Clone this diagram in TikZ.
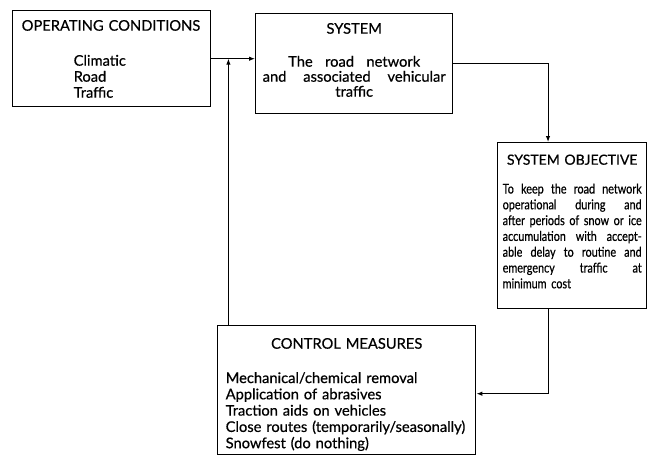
\documentclass[tikz,border=0pt]{standalone}
\usepackage{fontspec}
\setmainfont{Lato}[FakeBold=0.6]
\newfontfamily\narrowfont{Lato}[FakeBold=0.6,FakeStretch=0.8]
\usetikzlibrary{arrows.meta,calc}

% a line with its word spaces spread to the given width
\newcommand\fullline[2][\linewidth]{{\spaceskip=.3333em plus 1fil\makebox[#1][s]{#2}}}

\begin{document}
\begin{tikzpicture}[x=1pt,y=-1pt,
		block/.style={draw, line width=1.4pt, anchor=north west, inner ysep=0pt, font=\fontsize{14.7}{16}\selectfont},
		link/.style={line width=1pt, -{Latex[length=6pt,width=4.5pt]}}]
	\useasboundingbox (0,0) rectangle (647,456);

	\node (cond) [block, inner xsep=7pt, text width=184pt, text height=20pt, text depth=76pt, align=left] at (12,10)
		{\hspace*{2pt}OPERATING CONDITIONS\\[19pt]
		\hspace*{54pt}Climatic\\
		\hspace*{54pt}Road\\
		\hspace*{54pt}Traffic};
	\node (sys) [block, inner xsep=7pt, text width=183pt, text height=20pt, text depth=80pt, align=center, font=\fontsize{14.7}{15}\selectfont] at (255,13)
		{SYSTEM\\[18pt]
		\fullline[132pt]{The road network}\\
		\fullline[183pt]{and associated vehicular}\\
		traffic};
	\node (obj) [block, inner xsep=5pt, text width=139pt, text height=22pt, text depth=144pt, align=left, font=\fontsize{14}{15.8}\selectfont] at (497,142)
		{\makebox[\linewidth]{SYSTEM OBJECTIVE}\\[13pt]
		\narrowfont\fontsize{13.5}{15.8}\selectfont
		\fullline{To keep the road network}\\
		\fullline{operational during and}\\
		\fullline{after periods of snow or ice}\\
		\fullline{accumulation with accept-}\\
		\fullline{able delay to routine and}\\
		\fullline{emergency traffic at}\\
		minimum cost};
	\node (ctrl) [block, inner xsep=6pt, text width=246pt, text height=23pt, text depth=106pt, align=left, font=\fontsize{14.7}{16.3}\selectfont] at (217,325)
		{\makebox[\linewidth]{CONTROL MEASURES}\\[18pt]
		\hspace*{2pt}Mechanical/chemical removal\\
		\hspace*{2pt}Application of abrasives\\
		\hspace*{2pt}Traction aids on vehicles\\
		\hspace*{2pt}Close routes (temporarily/seasonally)\\
		\hspace*{2pt}Snowfest (do nothing)};

	% connectors
	\coordinate (join) at ($(cond.east)+(17,0)$);
	\coordinate (drop) at (548,0);
	\draw[link] (cond.east) -- (cond.east -| sys.west);
	\draw[link] (join |- ctrl.north) -- (join);
	\draw[link] (sys.east) -| (drop |- obj.north);
	\draw[link] (drop |- obj.south) |- ([yshift=-3.5pt]ctrl.east);
\end{tikzpicture}
\end{document}
